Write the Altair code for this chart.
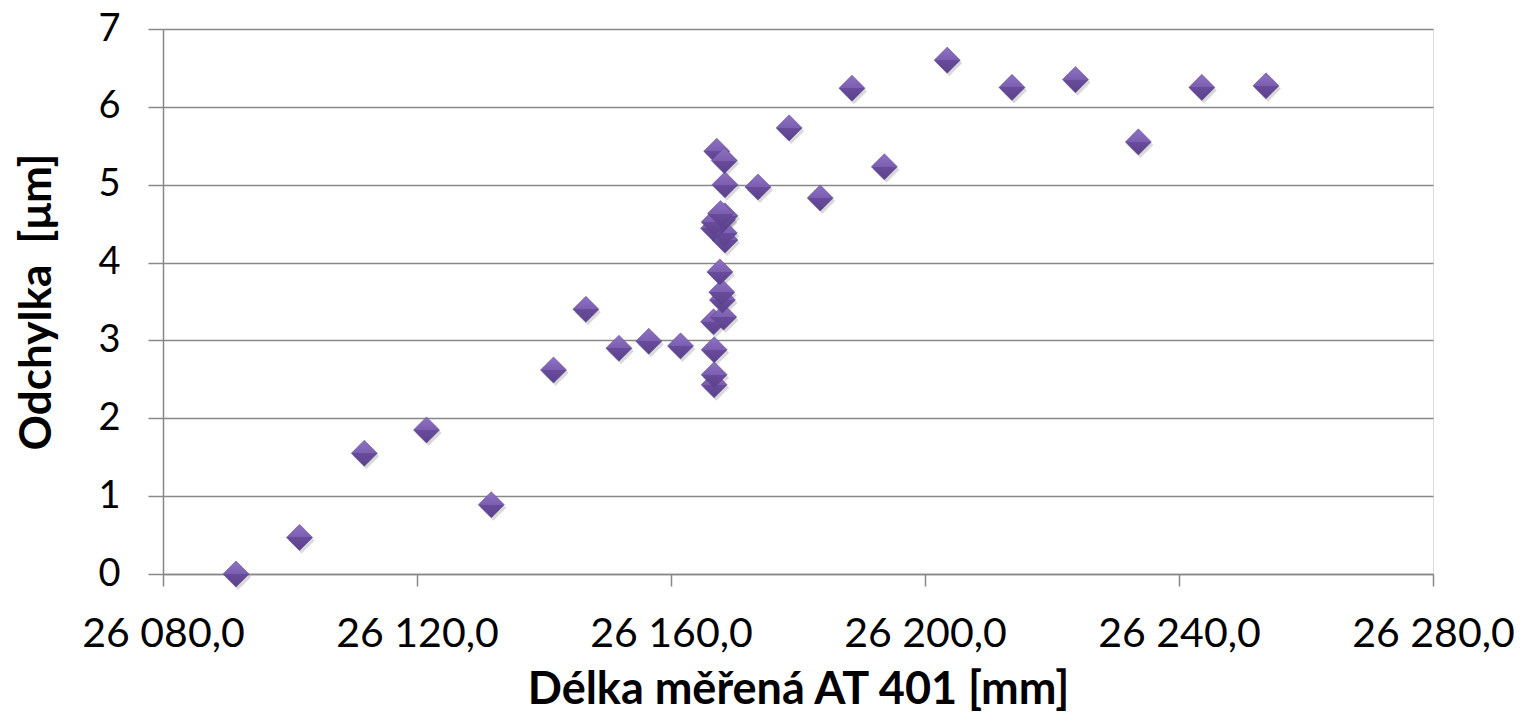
import altair as alt
import pandas as pd

x_vals = [26091.5, 26101.5, 26111.7, 26121.5, 26131.7, 26141.5, 26146.6, 26151.8, 26156.5, 26161.5,
          26166.8, 26166.8, 26166.8, 26166.7, 26168.3, 26168.1, 26168.0, 26167.7,
          26168.5, 26168.4, 26166.7, 26168.1, 26166.8, 26168.5, 26167.8,
          26168.5, 26167.2, 26168.4, 26173.7, 26178.6, 26183.5, 26188.5, 26193.6,
          26203.5, 26213.7, 26223.7, 26233.6, 26243.6, 26253.7]
y_vals = [0.0, 0.47, 1.55, 1.85, 0.89, 2.62, 3.40, 2.90, 2.99, 2.93,
          2.43, 2.56, 2.88, 3.24, 3.30, 3.52, 3.62, 3.88,
          4.29, 4.38, 4.44, 4.55, 4.52, 4.60, 4.63,
          5.00, 5.43, 5.31, 4.97, 5.73, 4.83, 6.24, 5.23,
          6.60, 6.25, 6.35, 5.55, 6.25, 6.27]

df = pd.DataFrame({"x": x_vals, "y": y_vals})

FONT = "Lato"
x_ticks = [26080, 26120, 26160, 26200, 26240, 26280]
y_ticks = [0, 1, 2, 3, 4, 5, 6, 7]

xs = alt.Scale(domain=[26080, 26280], nice=False, zero=False)
ys = alt.Scale(domain=[0, 7], nice=False)

x_enc = alt.X("x:Q", scale=xs, axis=alt.Axis(
    values=x_ticks, grid=False, domainColor="#888888", domainWidth=1.5,
    tickColor="#888888", tickWidth=1.5, tickSize=12, labelPadding=28,
    labelFlush=False, labelOverlap=False, labelBound=False,
    labelFont=FONT, labelFontSize=41, labelColor="#000000",
    labelExpr="replace(replace(format(datum.value, ',.1f'), ',', ' '), '.', ',')",
    title="Délka měřená AT 401 [mm]", titleFont=FONT, titleFontSize=45,
    titleFontWeight="bold", titleColor="#000000", titlePadding=13))
y_enc = alt.Y("y:Q", scale=ys, axis=alt.Axis(
    values=y_ticks, grid=True, gridColor="#888888", gridWidth=1.5,
    domainColor="#888888", domainWidth=1.5,
    tickColor="#888888", tickWidth=1.5, tickSize=15, labelPadding=28,
    labelOverlap=False, labelFlush=False,
    labelFont=FONT, labelFontSize=38, labelColor="#000000",
    title="Odchylka\u00a0\u00a0[μm]", titleFont=FONT, titleFontSize=44,
    titleFontWeight="bold", titleColor="#000000", titlePadding=38))

base = alt.Chart(df)

shadow = base.mark_point(shape="diamond", filled=True, size=680, color="#000000",
                         opacity=0.15, xOffset=2, yOffset=3).encode(x=x_enc, y=y_enc)

grad = alt.Gradient(
    gradient="linear", x1=0, y1=0, x2=0, y2=1,
    stops=[alt.GradientStop(offset=0, color="#8E72C2"),
           alt.GradientStop(offset=0.5, color="#7B5EB0"),
           alt.GradientStop(offset=0.5, color="#684C9C"),
           alt.GradientStop(offset=1, color="#5B418C")])

pts = base.mark_point(shape="diamond", filled=True, size=680, fill=grad,
                      opacity=1, stroke="#5A4088", strokeWidth=0.5).encode(x=x_enc, y=y_enc)

chart = (shadow + pts).properties(
    width=1270, height=545,
    autosize=alt.AutoSizeParams(type="none"),
    padding={"left": 155, "top": 21, "right": 81, "bottom": 140},
).configure_view(stroke=None).configure(background="white")

chart.save("out.html", embed_options={"renderer": "svg", "actions": False})
